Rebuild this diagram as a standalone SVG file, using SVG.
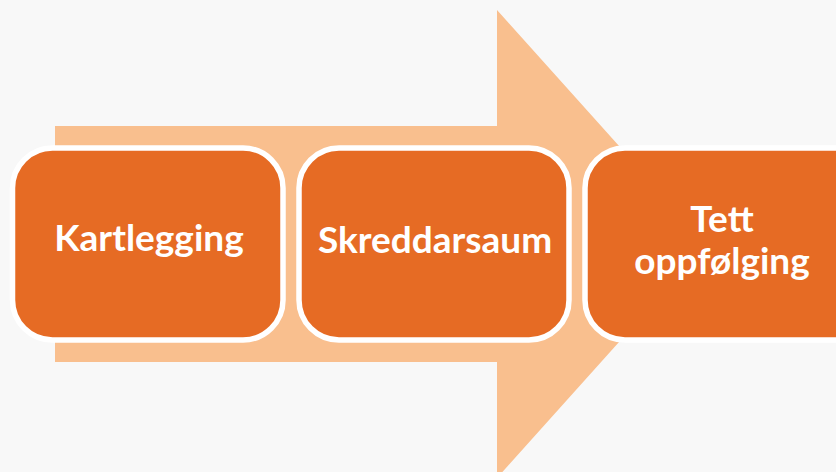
<svg xmlns="http://www.w3.org/2000/svg" width="836" height="472" viewBox="0 0 836 472">
<style>
.box{fill:#E66B24;stroke:#FFFFFF;stroke-width:5.5}
.lbl{font-family:Lato,"Open Sans",sans-serif;font-weight:700;font-size:37px;fill:#FFFFFF;text-anchor:middle}
</style>
<rect width="836" height="472" fill="#F8F8F8"/>
<g id="arrow">
<polygon points="55,126 497,126 497,10 707,244 497,478 497,362 55,362" fill="#F9BF8E"/>
</g>
<g id="connectors"></g>
<g id="node1">
<rect class="box" x="12.5" y="148" width="270.5" height="192" rx="40"/>
<text class="lbl" x="149" y="251">Kartlegging</text>
</g>
<g id="node2">
<rect class="box" x="299" y="148" width="270" height="192" rx="40"/>
<text class="lbl" x="435" y="253">Skreddarsaum</text>
</g>
<g id="node3">
<rect class="box" x="585" y="148" width="290" height="192" rx="40"/>
<text class="lbl" x="722" y="232">Tett</text>
<text class="lbl" x="722" y="274">oppfølging</text>
</g>
</svg>
